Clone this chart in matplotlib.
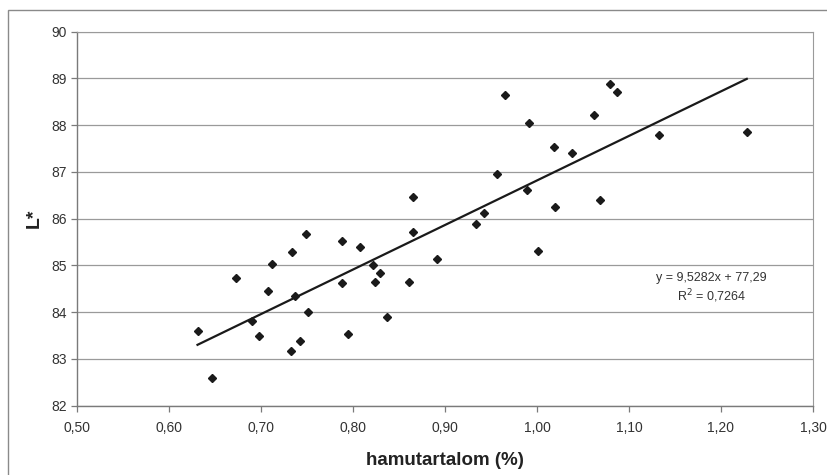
import numpy as np
import matplotlib.pyplot as plt
from matplotlib.patches import Rectangle

plt.rcParams['font.family'] = ['Liberation Sans', 'DejaVu Sans']

# ash content (%) and L* values
hamu = [0.631, 0.647, 0.673, 0.690, 0.698, 0.708, 0.712, 0.733, 0.734, 0.737,
        0.742, 0.749, 0.751, 0.788, 0.788, 0.795, 0.808, 0.822, 0.824, 0.829,
        0.837, 0.861, 0.865, 0.865, 0.891, 0.934, 0.942, 0.956, 0.965, 0.989,
        0.991, 1.001, 1.019, 1.020, 1.038, 1.062, 1.069, 1.079, 1.087, 1.133,
        1.228]
lstar = [83.60, 82.59, 84.74, 83.82, 83.50, 84.46, 85.04, 83.17, 85.29, 84.35,
         83.39, 85.68, 84.00, 85.53, 84.63, 83.53, 85.39, 85.01, 84.65, 84.83,
         83.90, 84.65, 86.46, 85.71, 85.14, 85.88, 86.12, 86.95, 88.64, 86.61,
         88.05, 85.30, 87.53, 86.25, 87.41, 88.22, 86.39, 88.89, 88.70, 87.79,
         87.86]

# trend line as printed on the chart
slope = 9.5282
intercept = 77.29
r2 = 0.7264

x_ticks = [0.5, 0.6, 0.7, 0.8, 0.9, 1.0, 1.1, 1.2, 1.3]
y_ticks = [82, 83, 84, 85, 86, 87, 88, 89, 90]

fig = plt.figure(figsize=(8.28, 4.75), dpi=100)
ax = fig.add_axes([77/828, 1-405.7/475, (813-77)/828, (405.7-31.7)/475])

# chart area frame (cropped on right/bottom)
fig.patches.append(Rectangle((8/828, -0.05), 1.2, 1-10/475+0.05, transform=fig.transFigure,
                             fill=False, edgecolor='#8a8a8a', lw=1.0))

ax.set_xlim(0.5, 1.3)
ax.set_ylim(82, 90)
ax.set_xticks(x_ticks)
ax.set_yticks(y_ticks)
ax.set_xticklabels([('%.2f' % v).replace('.', ',') for v in x_ticks])
ax.set_yticklabels(['%d' % v for v in y_ticks])

ax.grid(axis='y', color='#9a9a9a', lw=0.9)
ax.set_axisbelow(True)
for s in ['top', 'right']:
    ax.spines[s].set_color('#9a9a9a')
    ax.spines[s].set_linestyle((0, (1, 1)))
    ax.spines[s].set_linewidth(0.8)
for s in ['left', 'bottom']:
    ax.spines[s].set_color('#7a7a7a')
    ax.spines[s].set_linewidth(1.0)
ax.tick_params(axis='both', colors='#7a7a7a', labelcolor='#333333', labelsize=10,
               length=4, width=0.9, direction='out')
ax.tick_params(axis='x', pad=7)

ax.plot(hamu, lstar, 'D', color='#1a1a1a', markersize=3.7, zorder=3)

xs = np.array([min(hamu), max(hamu)])
ax.plot(xs, slope*xs + intercept, color='#1a1a1a', lw=1.6, zorder=2)

ax.text(1.19, 84.74, ('y = %.4fx + %.2f' % (slope, intercept)).replace('.', ','),
        ha='center', va='center', fontsize=9, color='#333333')
ax.text(1.19, 84.34, ('R$^2$ = %.4f' % r2).replace('.', ','),
        ha='center', va='center', fontsize=9, color='#333333')

ax.set_xlabel('hamutartalom (%)', fontsize=13.5, fontweight='bold', color='#222222', labelpad=12)
ax.set_ylabel('L*', fontsize=14, fontweight='bold', color='#222222', labelpad=6)

fig.savefig('out.png', dpi=100)
